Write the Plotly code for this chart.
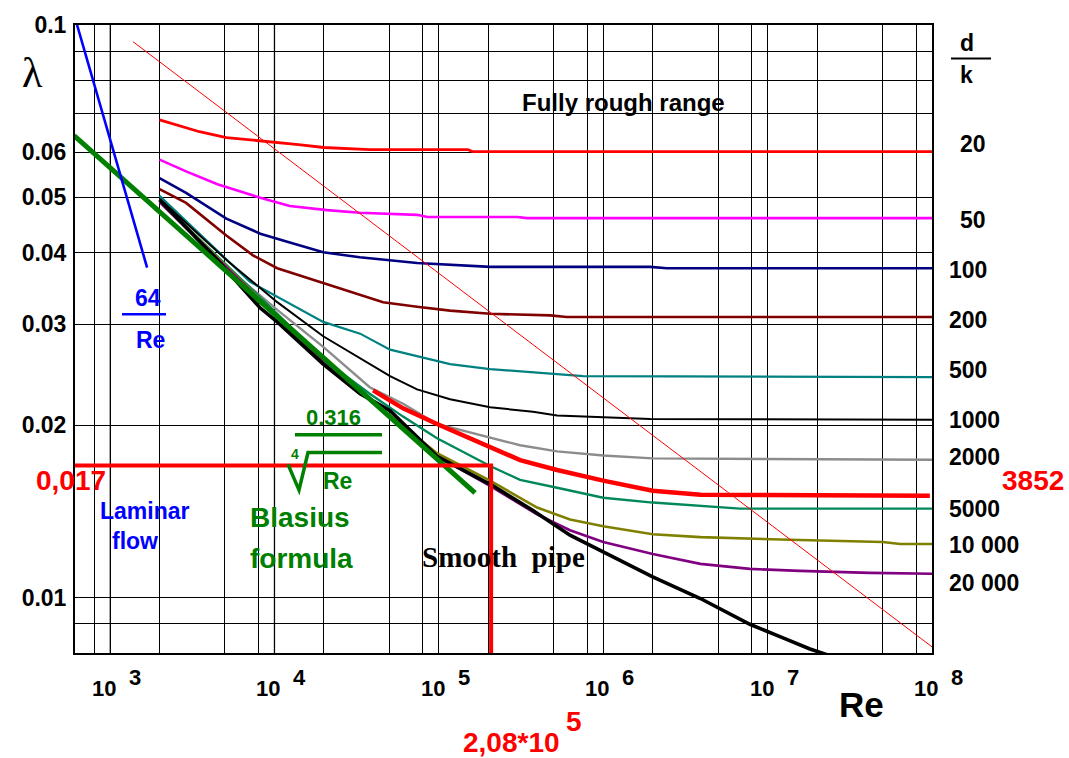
import math
import plotly.graph_objects as go

# ---- friction factor readings, lambda vs Re, one series per relative roughness d/k ----
re_20 = [2000, 3500, 5100, 8200, 14000, 20000, 38000, 150000, 160000, 1e8]
lam_20 = [0.0683, 0.0651, 0.0636, 0.0628, 0.0618, 0.0611, 0.0606, 0.0606, 0.0601, 0.0601]

re_50 = [2000, 2900, 4500, 8200, 12400, 20900, 33000, 73700, 85000, 300000, 344000, 1e8]
lam_50 = [0.0582, 0.0555, 0.0527, 0.0499, 0.0483, 0.0475, 0.0470, 0.0466, 0.0462, 0.0462, 0.0460, 0.0460]

re_100 = [2000, 2900, 5100, 8200, 12400, 19800, 33000, 73700, 205000, 1.93e6, 2.44e6, 1e8]
lam_100 = [0.0540, 0.0509, 0.0459, 0.0432, 0.0417, 0.0401, 0.0393, 0.0384, 0.0378, 0.0378, 0.0376, 0.0376]

re_200 = [2000, 2900, 5100, 7400, 10400, 19800, 33000, 45800, 73700, 117000, 205000, 475000, 600000, 1e8]
lam_200 = [0.0517, 0.0489, 0.0429, 0.0396, 0.0376, 0.0354, 0.0338, 0.0328, 0.0322, 0.0317, 0.0313, 0.0311,
           0.0309, 0.0309]

re_500 = [2000, 4480, 7100, 19800, 33200, 50500, 73700, 117000, 205000, 374000, 754000, 1e8]
lam_500 = [0.0503, 0.0404, 0.0356, 0.0303, 0.0289, 0.0271, 0.0264, 0.02556, 0.02506, 0.02476, 0.02437, 0.02427]

re_1000 = [2000, 5150, 10400, 19800, 50500, 73700, 117000, 205000, 374000, 524000, 1.93e6, 1e8]
lam_1000 = [0.0497, 0.0388, 0.0328, 0.0286, 0.02437, 0.0231, 0.0222, 0.0215, 0.0211, 0.0208, 0.0205, 0.02045]

re_2000 = [2000, 5150, 10400, 19800, 38000, 60600, 97500, 205000, 312000, 524000, 1e6, 2e6, 1e8]
lam_2000 = [0.0495, 0.0377, 0.0318, 0.0274, 0.0233, 0.0218, 0.0201, 0.0190, 0.01845, 0.0180, 0.0177, 0.0175,
            0.0174]

re_3852 = [39800, 60600, 97500, 205000, 312000, 524000, 1e6, 2e6, 3.9e6, 9.7e7]
lam_3852 = [0.0230, 0.0214, 0.0201, 0.01837, 0.01738, 0.0167, 0.0160, 0.01536, 0.01512, 0.01506]

re_5000 = [2000, 10400, 19800, 38000, 60600, 97500, 205000, 312000, 524000, 1e6, 2e6, 3.9e6, 6.8e6, 1e8]
lam_5000 = [0.0493, 0.0313, 0.02608, 0.0227, 0.0207, 0.01897, 0.01697, 0.01605, 0.01555, 0.01494, 0.01465,
            0.01447, 0.0143, 0.0143]

re_10000 = [2000, 10400, 19800, 38000, 97500, 205000, 396000, 628000, 1e6, 2e6, 3.9e6, 1.57e7, 5e7, 6.4e7, 1e8]
lam_10000 = [0.0493, 0.0311, 0.02587, 0.0222, 0.01787, 0.0160, 0.01436, 0.01369, 0.01332, 0.0129, 0.01275,
             0.0126, 0.0125, 0.0124, 0.0124]

re_20000 = [2000, 10400, 19800, 38000, 97500, 205000, 396000, 628000, 1e6, 2e6, 3.9e6, 7.8e6, 1.57e7, 4.2e7, 1e8]
lam_20000 = [0.04906, 0.03094, 0.02577, 0.02215, 0.01765, 0.01567, 0.01397, 0.01311, 0.0125, 0.01191, 0.01145,
             0.01122, 0.01113, 0.01104, 0.0110]

# hydraulically smooth pipe
re_smooth = [2000, 4230, 8170, 10400, 19800, 33200, 50500, 97500, 213600, 374000, 628000, 1.21e6, 2e6, 3.9e6,
             7.8e6, 1.24e7, 1.81e7, 2.5e7]
lam_smooth = [0.0495, 0.0396, 0.03207, 0.0303, 0.02556, 0.0227, 0.0212, 0.01765, 0.01567, 0.01419, 0.01285,
              0.01168, 0.01087, 0.00996, 0.00898, 0.0085, 0.00813, 0.00788]

# laminar branch 64/Re and Blasius line 0.316/Re^0.25
re_laminar = [630, 1680]
lam_laminar = [0.1, 0.0377]
re_blasius = [604, 166000]
lam_blasius = [0.0641, 0.01524]

# boundary of the fully rough range
re_rough = [1380, 1e8]
lam_rough = [0.0935, 0.0082]

# worked example
re_example = 2.08e5
lam_example = 0.017

# roughness series: values, colour, width
series = [
    (re_20, lam_20, "#ff0000", 2.8),
    (re_50, lam_50, "#ff00ff", 2.6),
    (re_100, lam_100, "#000080", 2.6),
    (re_200, lam_200, "#800000", 2.6),
    (re_500, lam_500, "#008080", 2.2),
    (re_1000, lam_1000, "#000000", 2.0),
    (re_2000, lam_2000, "#8c8c8c", 2.4),
    (re_5000, lam_5000, "#00875a", 2.4),
    (re_10000, lam_10000, "#808000", 2.6),
    (re_20000, lam_20000, "#800080", 2.6),
]

# axis ticks / grid
x_grid = [800, 1e3, 2e3, 5e3, 8e3, 1e4, 2e4, 5e4, 8e4, 1e5, 2e5, 5e5, 8e5, 1e6, 2e6, 5e6, 8e6,
          1e7, 2e7, 5e7, 8e7, 1e8]
x_decades = [3, 4, 5, 6, 7, 8]
y_grid = [0.008, 0.009, 0.01, 0.02, 0.03, 0.04, 0.05, 0.06, 0.07, 0.08, 0.09, 0.1]
y_labels = {0.01: "0.01", 0.02: "0.02", 0.03: "0.03", 0.04: "0.04", 0.05: "0.05", 0.06: "0.06", 0.1: "0.1"}

dk_labels = ["20", "50", "100", "200", "500", "1000", "2000", "5000", "10 000", "20 000"]

SANS = "Liberation Sans, Arial, sans-serif"
SERIF = "Liberation Serif, Times New Roman, serif"

W, H = 1069, 758
L, R, T, B = 75, 137, 17, 105
PW, PH = W - L - R, H - T - B

x_range = [math.log10(612), 8.0]
y_range = [math.log10(0.008), -1.0]


def px(x):
    return (x - L) / PW


def py(y):
    return (T + PH - y) / PH


fig = go.Figure()

for xs, ys, col, wdt in series:
    fig.add_trace(go.Scatter(x=xs, y=ys, mode="lines", line=dict(color=col, width=wdt), hoverinfo="skip"))

fig.add_trace(go.Scatter(x=re_smooth, y=lam_smooth, mode="lines", line=dict(color="black", width=3.6)))
fig.add_trace(go.Scatter(x=re_blasius, y=lam_blasius, mode="lines", line=dict(color="#008000", width=5)))
fig.add_trace(go.Scatter(x=re_3852, y=lam_3852, mode="lines", line=dict(color="#ff0000", width=4.5)))
fig.add_trace(go.Scatter(x=re_laminar, y=lam_laminar, mode="lines", line=dict(color="#0000ff", width=2.6)))
fig.add_trace(go.Scatter(x=re_rough, y=lam_rough, mode="lines", line=dict(color="#ff0000", width=1)))

# worked example: lambda = 0.017 read at Re = 2.08e5
fig.add_trace(go.Scatter(
    x=[10 ** x_range[0], re_example, re_example],
    y=[lam_example, lam_example, 10 ** y_range[0]],
    mode="lines", line=dict(color="#ff0000", width=4)))

annotations = []


def note(text, cx, cy, size, color="black", family=SANS, xanchor="center", bold=True):
    annotations.append(dict(
        text=text, x=px(cx), y=py(cy), xref="paper", yref="paper",
        xanchor=xanchor, yanchor="middle", showarrow=False,
        font=dict(size=size, color=color, family=family, weight="bold" if bold else "normal")))


# decade labels on the Re axis
for n in x_decades:
    annotations.append(dict(text="10", x=n, y=py(704), xref="x", yref="paper", xshift=-6,
                            showarrow=False,
                            font=dict(size=22, family=SANS, color="black", weight="bold")))
    annotations.append(dict(text=str(n), x=n, y=py(692), xref="x", yref="paper", xshift=25,
                            showarrow=False,
                            font=dict(size=22, family=SANS, color="black", weight="bold")))

note("Re", 861, 705, 35)
note("λ", 32, 66, 42, family=SERIF, bold=False)
note("Fully rough range", 623, 95, 24)

# d/k heading and series labels
note("d", 967, 35, 23)
note("k", 967, 68, 23)
dk_pos = [(958, 138), (958, 214), (947, 265), (947, 316), (947, 366), (947, 417), (947, 455),
          (947, 507), (947, 544), (947, 582)]
for lab, (cx, cy) in zip(dk_labels, dk_pos):
    note(lab, cx, cy, 23, xanchor="left")
note("3852", 1000, 478, 28, color="#ff0000", xanchor="left")

# laminar flow caption
note("64", 148, 293, 23, color="#0000ff")
note("Re", 150, 336, 23, color="#0000ff")
note("Laminar", 145, 509, 23, color="#0000ff")
note("flow", 135, 540, 23, color="#0000ff")

# Blasius caption
note("0.316", 333, 415, 22, color="#008000")
note("4", 295, 451, 14, color="#008000")
note("Re", 337, 479, 23, color="#008000")
note("Blasius", 300, 516, 28, color="#008000")
note("formula", 301, 557, 28, color="#008000")

note("Smooth&nbsp;&nbsp;pipe", 504, 556, 29, family=SERIF)

# worked example labels
note("0,017", 71, 478, 28, color="#ff0000")
note("2,08*10", 511, 744, 28, color="#ff0000")
note("5", 574, 722, 28, color="#ff0000")

shapes = [
    # fraction bars and root sign
    dict(type="line", xref="paper", yref="paper", x0=px(951), x1=px(991), y0=py(51), y1=py(51),
         line=dict(color="black", width=2)),
    dict(type="line", xref="paper", yref="paper", x0=px(122), x1=px(166), y0=py(310), y1=py(310),
         line=dict(color="#0000ff", width=2.5)),
    dict(type="line", xref="paper", yref="paper", x0=px(295), x1=px(382), y0=py(432), y1=py(432),
         line=dict(color="#008000", width=3.5)),
    dict(type="path", xref="paper", yref="paper",
         path=f"M {px(288)},{py(462)} L {px(299)},{py(488)} L {px(308)},{py(450)} L {px(382)},{py(450)}",
         line=dict(color="#008000", width=3.5)),
]
# lighter grid lines at 10^3 and 10^4
for xv in (1e3, 1e4):
    shapes.append(dict(type="line", xref="x", yref="paper", x0=xv, x1=xv, y0=0, y1=1, layer="between",
                       line=dict(color="#8a8a8a", width=1.6)))

fig.update_layout(
    width=W, height=H,
    margin=dict(l=L, r=R, t=T, b=B),
    paper_bgcolor="white", plot_bgcolor="white",
    showlegend=False,
    annotations=annotations,
    shapes=shapes,
    xaxis=dict(type="log", range=x_range, tickvals=x_grid, ticktext=[""] * len(x_grid),
               showgrid=True, gridcolor="black", gridwidth=1.3,
               showline=True, linecolor="black", linewidth=2, mirror=True, ticks=""),
    yaxis=dict(type="log", range=y_range, tickvals=y_grid,
               ticktext=[y_labels.get(v, "") for v in y_grid],
               tickfont=dict(size=23, family=SANS, color="black", weight="bold"),
               ticklabelstandoff=2,
               showgrid=True, gridcolor="black", gridwidth=1.3,
               showline=True, linecolor="black", linewidth=2, mirror=True, ticks=""),
)

fig.write_html("out.html")
